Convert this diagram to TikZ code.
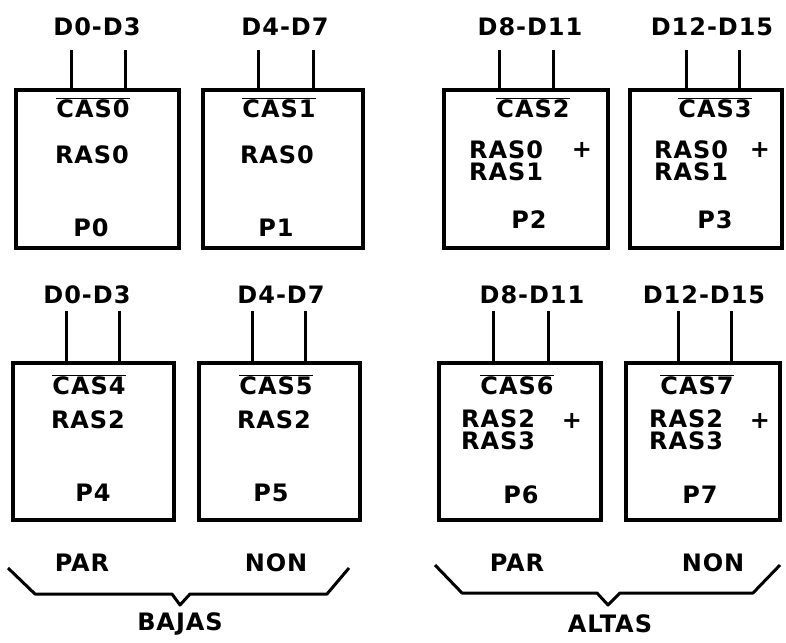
\documentclass[tikz,border=0pt]{standalone}
\usepackage{fontspec}
\newfontfamily\lbl[LetterSpace=4]{DejaVu Sans Bold}
\newcommand{\ovl}[1]{$\overline{\hbox{#1}}$}
\begin{document}
\begin{tikzpicture}[x=1pt,y=-1pt,
  chip/.style={draw, line width=3.2pt, inner sep=0pt},
  lead/.style={line width=3pt},
  brace/.style={line width=3pt, line join=round},
  txt/.style={font=\lbl\fontsize{24}{22}\selectfont, inner sep=0pt},
  leftt/.style={txt, anchor=west, align=left}]
\useasboundingbox (0,0) rectangle (786,642);
% chips
\node[chip, minimum width=163pt, minimum height=158pt] (P0) at (97.5,169) {};
\node[chip, minimum width=160pt, minimum height=158pt] (P1) at (283,169) {};
\node[chip, minimum width=164pt, minimum height=158pt] (P2) at (526,169) {};
\node[chip, minimum width=152pt, minimum height=158pt] (P3) at (706,169) {};
\node[chip, minimum width=161pt, minimum height=157pt] (P4) at (93.5,441.5) {};
\node[chip, minimum width=161pt, minimum height=157pt] (P5) at (279.5,441.5) {};
\node[chip, minimum width=162pt, minimum height=157pt] (P6) at (520,441.5) {};
\node[chip, minimum width=154pt, minimum height=157pt] (P7) at (703,441.5) {};
% data labels
\node[txt] (d0) at (97,27) {D0-D3};
\node[txt] (d1) at (285,27) {D4-D7};
\node[txt] (d2) at (530,27) {D8-D11};
\node[txt] (d3) at (712,27) {D12-D15};
\node[txt] (d4) at (87,295) {D0-D3};
\node[txt] (d5) at (281,295) {D4-D7};
\node[txt] (d6) at (532,295) {D8-D11};
\node[txt] (d7) at (704,295) {D12-D15};
% leads
\foreach \n/\x/\y in {P0/71/50, P0/125/50, P1/258/50, P1/313/50, P2/499/50, P2/553/50, P3/686/50, P3/739/50,
  P4/66/311, P4/119/311, P5/252/311, P5/305/311, P6/493/311, P6/548/311, P7/678/311, P7/731/311}{
  \coordinate (t) at (\x,\y);
  \draw[lead] (t) -- (t |- \n.north);
}
% chip texts
\node[txt] (c0) at (93,108) {\ovl{CAS0}};
\node[txt] (r0) at (92,155) {RAS0};
\node[txt] (p0) at (91,228) {P0};
\node[txt] (c1) at (279,108) {\ovl{CAS1}};
\node[txt] (r1) at (277,155) {RAS0};
\node[txt] (p1) at (276,228) {P1};
\node[txt] (c2) at (533,108) {\ovl{CAS2}};
\node[leftt] (r2) at (469,161) {RAS0\\RAS1};
\node[txt] (q2) at (582,150) {+};
\node[txt] (p2) at (529,220) {P2};
\node[txt] (c3) at (715,108) {\ovl{CAS3}};
\node[leftt] (r3) at (654,161) {RAS0\\RAS1};
\node[txt] (q3) at (760,150) {+};
\node[txt] (p3) at (715,220) {P3};
\node[txt] (c4) at (89,385) {\ovl{CAS4}};
\node[txt] (r4) at (88,420) {RAS2};
\node[txt] (p4) at (93,493) {P4};
\node[txt] (c5) at (276,385) {\ovl{CAS5}};
\node[txt] (r5) at (274,420) {RAS2};
\node[txt] (p5) at (271,493) {P5};
\node[txt] (c6) at (517,385) {\ovl{CAS6}};
\node[leftt] (r6) at (461,430) {RAS2\\RAS3};
\node[txt] (q6) at (572,421) {+};
\node[txt] (p6) at (521,495) {P6};
\node[txt] (c7) at (697,385) {\ovl{CAS7}};
\node[leftt] (r7) at (649,430) {RAS2\\RAS3};
\node[txt] (q7) at (760,421) {+};
\node[txt] (p7) at (700,495) {P7};
% bottom labels
\node[txt] (par1) at (82,563) {PAR};
\node[txt] (non1) at (276,563) {NON};
\node[txt] (par2) at (517,563) {PAR};
\node[txt] (non2) at (713,563) {NON};
\node[txt] (baj) at (180,624) {BAJAS};
\node[txt] (alt) at (610,624) {ALTAS};
% braces
\coordinate (b1a) at (8,568); \coordinate (b1b) at (35,594); \coordinate (b1c) at (172,594);
\coordinate (b1d) at (180,605); \coordinate (b1e) at (190,594); \coordinate (b1f) at (327,594);
\coordinate (b1g) at (349,568);
\draw[brace] (b1a) -- (b1b) -- (b1c) -- (b1d) -- (b1e) -- (b1f) -- (b1g);
\coordinate (b2a) at (435,565); \coordinate (b2b) at (462,593); \coordinate (b2c) at (597,593);
\coordinate (b2d) at (608,605); \coordinate (b2e) at (620,593); \coordinate (b2f) at (753,593);
\coordinate (b2g) at (780,565);
\draw[brace] (b2a) -- (b2b) -- (b2c) -- (b2d) -- (b2e) -- (b2f) -- (b2g);
\end{tikzpicture}
\end{document}
